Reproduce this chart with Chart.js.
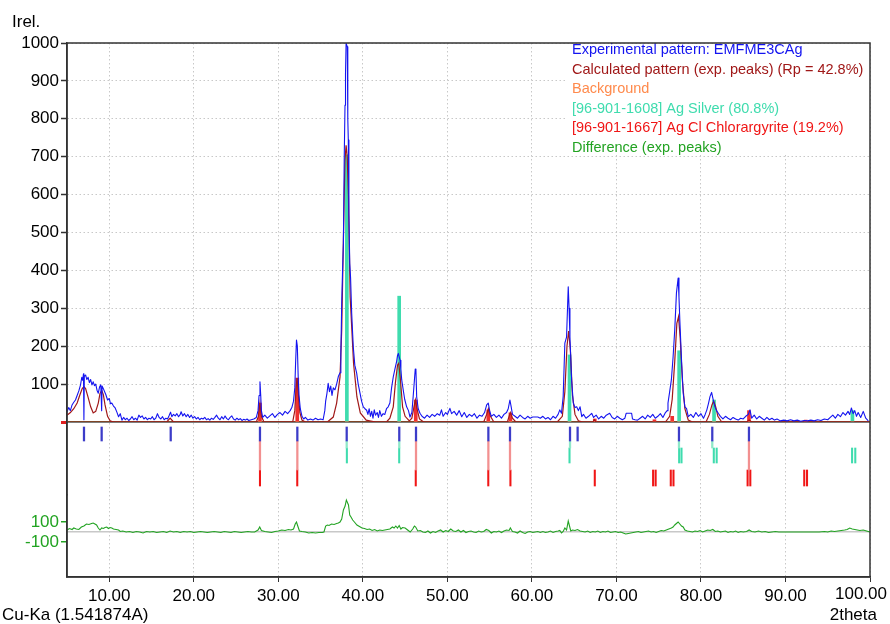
<!DOCTYPE html>
<html>
<head>
<meta charset="utf-8">
<title>XRD pattern EMFME3CAg</title>
<script src="https://cdn.jsdelivr.net/npm/chart.js@4.4.1/dist/chart.umd.min.js"></script>
<style>
  html, body { margin: 0; padding: 0; background: #fff; }
  #wrap { width: 890px; height: 624px; }
</style>
</head>
<body>
<div id="wrap"><canvas id="xrd" width="890" height="624"></canvas></div>
<script>
// tick labels
const xTicks = [10, 20, 30, 40, 50, 60, 70, 80, 90, 100];
const yMainTicks = [0, 100, 200, 300, 400, 500, 600, 700, 800, 900, 1000];
const diffTicks = [-100, 0, 100];

// experimental pattern [2theta, Irel]
const experimental = [
  [5.0,27],[5.2,38],[5.4,30],[5.6,45],[5.8,52],[6.0,58],[6.2,70],[6.4,82],[6.6,98],[6.75,118],[6.85,110],[6.95,127],[7.0,6],[7.05,120],
  [7.2,124],[7.35,112],[7.5,118],[7.65,104],[7.8,112],[7.95,98],[8.1,106],[8.25,96],[8.4,100],[8.55,84],[8.7,76],[8.85,92],[9.0,98],[9.1,30],
  [9.15,95],[9.3,88],[9.45,80],[9.6,72],[9.8,58],[10.0,62],[10.15,48],[10.3,50],[10.5,42],[10.7,37],[10.9,26],[11.1,14],[11.3,22],[11.5,5],
  [11.7,12],[11.9,6],[12.1,10],[12.3,4],[12.5,8],[12.7,14],[12.9,6],[13.1,10],[13.3,5],[13.5,18],[13.7,12],[13.9,16],[14.1,8],[14.3,12],
  [14.5,6],[14.7,10],[14.9,8],[15.1,14],[15.3,6],[15.5,10],[15.7,22],[15.9,12],[16.1,8],[16.3,14],[16.5,6],[16.7,10],[16.9,8],[17.1,18],
  [17.25,26],[17.4,14],[17.6,20],[17.8,16],[18.0,22],[18.2,14],[18.4,20],[18.5,27],[18.7,16],[18.9,22],[19.1,14],[19.3,20],[19.5,12],[19.7,18],
  [19.9,10],[20.1,14],[20.3,8],[20.5,12],[20.7,6],[20.9,10],[21.1,8],[21.3,12],[21.5,6],[21.7,9],[21.9,5],[22.1,10],[22.3,7],[22.5,12],
  [22.7,18],[22.9,10],[23.1,6],[23.3,14],[23.5,8],[23.7,16],[23.9,9],[24.1,6],[24.3,12],[24.5,16],[24.7,8],[24.9,5],[25.1,10],[25.3,6],
  [25.5,9],[25.7,4],[25.9,7],[26.1,5],[26.3,8],[26.5,4],[26.8,6],[27.1,8],[27.4,12],[27.6,30],[27.72,70],[27.83,106],[27.92,70],[28.0,30],
  [28.15,12],[28.4,18],[28.7,10],[29.0,16],[29.3,22],[29.6,12],[29.9,20],[30.2,25],[30.5,18],[30.8,28],[31.1,22],[31.4,30],[31.6,38],[31.8,55],
  [31.95,90],[32.05,160],[32.15,216],[32.25,200],[32.35,120],[32.45,70],[32.6,35],[32.8,15],[33.0,8],[33.2,12],[33.5,5],[33.8,8],[34.1,5],
  [34.4,10],[34.7,6],[35.0,8],[35.3,6],[35.5,30],[35.6,55],[35.75,75],[35.9,102],[36.05,80],[36.2,95],[36.35,70],[36.5,90],[36.7,85],[36.9,100],
  [37.1,120],[37.3,130],[37.4,180],[37.5,313],[37.6,400],[37.7,472],[37.8,700],[37.89,836],[37.95,920],[38.02,1000],[38.1,1000],[38.16,990],
  [38.22,800],[38.28,744],[38.35,550],[38.45,419],[38.55,380],[38.68,287],[38.8,230],[38.87,198],[39.05,150],[39.27,129],[39.45,100],[39.66,77],
  [39.85,55],[40.05,40],[40.25,35],[40.45,31],[40.6,20],[40.75,35],[40.9,15],[41.05,28],[41.2,10],[41.35,32],[41.5,18],[41.7,25],[41.85,12],
  [42.0,30],[42.2,15],[42.4,22],[42.6,20],[42.8,35],[43.0,40],[43.2,50],[43.4,90],[43.6,119],[43.8,140],[44.0,160],[44.1,175],[44.2,181],
  [44.3,172],[44.4,163],[44.5,140],[44.6,111],[44.78,84],[44.95,60],[45.18,40],[45.4,30],[45.58,13],[45.8,25],[45.95,66],[46.1,110],[46.2,140],
  [46.28,137],[46.37,66],[46.55,35],[46.76,23],[47.0,15],[47.3,10],[47.6,18],[47.9,12],[48.2,20],[48.5,15],[48.8,22],[49.1,18],[49.3,32],
  [49.5,15],[49.8,25],[50.0,20],[50.3,36],[50.5,22],[50.8,28],[51.1,18],[51.4,30],[51.7,14],[52.0,25],[52.3,12],[52.6,20],[52.9,15],[53.2,22],
  [53.5,10],[53.8,18],[54.1,15],[54.4,25],[54.65,45],[54.84,50],[55.0,30],[55.2,15],[55.5,20],[55.8,12],[56.1,18],[56.4,10],[56.7,20],[57.0,25],
  [57.2,35],[57.4,58],[57.55,40],[57.7,20],[58.0,15],[58.3,10],[58.6,18],[58.9,12],[59.2,8],[59.5,15],[59.8,10],[60.1,13],[60.4,13],[60.7,13],
  [61.0,10],[61.3,15],[61.6,8],[61.9,12],[62.2,6],[62.5,15],[62.8,10],[63.1,20],[63.3,32],[63.5,23],[63.7,67],[63.9,208],[64.1,224],[64.3,357],
  [64.4,300],[64.5,225],[64.7,111],[64.9,50],[65.1,38],[65.3,40],[65.5,30],[65.7,40],[65.9,14],[66.1,20],[66.4,10],[66.7,15],[67.07,23],[67.3,12],
  [67.6,18],[67.9,8],[68.2,15],[68.5,10],[68.8,18],[69.2,23],[69.5,12],[69.8,8],[70.1,15],[70.4,10],[70.7,6],[71.0,10],[71.15,23],[71.8,23],
  [71.9,8],[72.2,6],[72.5,5],[72.8,10],[73.1,15],[73.4,8],[73.7,18],[74.0,12],[74.3,20],[74.6,10],[74.9,15],[75.2,22],[75.5,12],[75.8,25],
  [76.0,30],[76.1,50],[76.3,80],[76.5,111],[76.7,170],[76.9,243],[77.1,340],[77.3,380],[77.4,330],[77.5,269],[77.7,164],[77.9,76],[78.1,40],
  [78.3,35],[78.5,14],[78.8,20],[79.1,12],[79.4,25],[79.7,15],[80.0,22],[80.3,10],[80.5,20],[80.7,32],[80.9,50],[81.07,67],[81.26,78],[81.46,58],
  [81.66,40],[81.85,30],[82.05,23],[82.3,15],[82.6,8],[82.9,15],[83.2,10],[83.5,6],[83.8,12],[84.1,8],[84.4,5],[84.7,10],[85.0,8],[85.3,15],
  [85.6,20],[85.8,32],[86.0,10],[86.3,18],[86.6,8],[86.9,15],[87.2,10],[87.5,5],[87.8,12],[88.1,6],[88.4,10],[88.7,5],[89.0,8],[89.4,3],
  [89.8,5],[90.2,3],[90.6,6],[91.0,3],[91.4,5],[91.8,2],[92.2,4],[92.6,3],[93.0,5],[93.4,3],[93.8,6],[94.2,4],[94.6,8],[95.0,6],[95.3,12],
  [95.6,18],[95.9,10],[96.2,20],[96.5,14],[96.8,25],[97.1,18],[97.4,28],[97.6,20],[97.8,37],[98.0,22],[98.2,30],[98.4,15],[98.6,25],[98.9,12],
  [99.2,28],[99.5,10],[99.8,3]
];

// calculated pattern (exp. peaks)
const calculated = [
  [5.0,18],[5.4,25],[5.8,35],[6.2,50],[6.5,70],[6.8,88],[7.0,93],[7.2,88],[7.5,65],[7.8,40],[8.1,24],[8.4,28],[8.7,50],[8.9,75],[9.1,84],
  [9.3,72],[9.5,45],[9.8,15],[10.1,3],[10.5,0],[16.8,0],[17.2,10],[17.6,0],[27.4,0],[27.65,15],[27.83,50],[28.0,15],[28.3,0],[31.7,0],
  [31.95,30],[32.1,90],[32.22,116],[32.35,80],[32.55,25],[32.8,5],[33.2,0],[35.8,0],[36.5,13],[36.9,50],[37.3,119],[37.5,243],[37.7,480],
  [37.88,690],[38.02,730],[38.15,700],[38.3,594],[38.5,330],[38.7,243],[38.9,155],[39.3,66],[39.7,24],[40.4,5],[41.5,0],[42.8,0],[43.2,10],
  [43.6,40],[43.85,103],[44.1,150],[44.25,155],[44.45,110],[44.7,40],[45.0,15],[45.5,3],[45.8,10],[46.05,40],[46.22,58],[46.4,35],[46.7,8],
  [47.2,0],[54.3,0],[54.65,20],[54.85,35],[55.1,15],[55.5,0],[57.1,0],[57.35,18],[57.45,25],[57.7,10],[58.1,0],[63.0,0],[63.6,15],[63.9,80],
  [64.15,200],[64.35,240],[64.55,190],[64.8,70],[65.1,20],[65.5,3],[66.0,0],[67.2,0],[67.4,6],[67.6,0],[75.8,0],[76.3,15],[76.6,60],[76.9,160],
  [77.15,260],[77.35,278],[77.55,220],[77.8,110],[78.1,35],[78.5,5],[79.0,0],[80.6,0],[81.0,20],[81.3,45],[81.5,55],[81.75,40],[82.0,15],
  [82.4,2],[83.0,0],[85.4,0],[85.7,5],[86.0,0],[100.0,0]
];

// background
const background = [[5, 0], [30, 0], [60, 0], [100, 0]];

// difference (exp. peaks)
const difference = [
  [5.0,20],[5.3,35],[5.6,25],[5.8,40],[6.1,30],[6.4,25],[6.7,50],[7.0,60],[7.3,80],[7.6,75],[7.9,85],[8.1,90],[8.3,80],[8.5,70],[8.7,40],
  [8.9,20],[9.1,40],[9.3,35],[9.5,45],[9.7,50],[9.9,35],[10.1,45],[10.3,40],[10.5,30],[10.8,25],[11.1,20],[11.3,5],[11.6,10],[12.0,0],
  [12.4,5],[12.8,-5],[13.2,5],[13.6,0],[14.0,-10],[14.4,5],[14.8,0],[15.2,5],[15.6,-5],[16.0,0],[16.4,5],[16.8,-5],[17.2,10],[17.6,0],
  [18.0,5],[18.4,-5],[18.8,5],[19.2,0],[19.6,5],[20.0,-5],[20.4,0],[20.8,5],[21.2,0],[21.6,-5],[22.0,0],[22.4,5],[22.8,0],[23.2,-5],[23.6,5],
  [24.0,0],[24.4,-5],[24.8,5],[25.2,0],[25.6,-5],[26.0,0],[26.4,5],[26.8,0],[27.2,0],[27.6,20],[27.8,50],[28.0,15],[28.4,5],[28.8,0],[29.2,-5],
  [29.6,5],[30.0,10],[30.4,20],[30.8,15],[31.2,25],[31.5,20],[31.8,30],[32.0,80],[32.15,100],[32.3,60],[32.5,10],[32.8,5],[33.2,0],[33.6,-10],
  [34.0,-5],[34.4,-10],[34.8,-5],[35.2,-5],[35.4,0],[35.6,60],[35.8,70],[36.0,65],[36.3,80],[36.6,75],[36.9,85],[37.1,90],[37.3,100],[37.5,130],
  [37.7,220],[37.9,260],[38.05,320],[38.2,290],[38.3,270],[38.45,170],[38.6,150],[38.8,120],[39.0,100],[39.3,70],[39.6,55],[39.9,40],[40.2,35],
  [40.5,25],[40.8,30],[41.1,15],[41.4,25],[41.7,10],[42.0,20],[42.3,15],[42.6,20],[42.9,25],[43.2,30],[43.5,50],[43.7,40],[43.9,60],[44.1,40],
  [44.3,65],[44.5,30],[44.7,45],[45.0,40],[45.3,20],[45.6,0],[45.9,30],[46.1,60],[46.25,50],[46.5,10],[46.8,15],[47.1,0],[47.4,-5],[47.7,10],
  [48.0,-10],[48.3,5],[48.6,-5],[48.9,10],[49.2,20],[49.5,0],[49.8,15],[50.1,5],[50.4,30],[50.7,10],[51.0,5],[51.3,20],[51.6,0],[51.9,15],
  [52.2,-5],[52.5,5],[52.8,10],[53.1,0],[53.4,-5],[53.7,10],[54.0,0],[54.3,5],[54.6,25],[54.9,15],[55.2,-10],[55.5,5],[55.8,0],[56.1,10],
  [56.4,-5],[56.7,10],[57.0,20],[57.3,15],[57.45,40],[57.7,5],[58.0,0],[58.3,-10],[58.6,10],[58.9,-5],[59.2,-15],[59.5,0],[59.8,5],[60.1,-5],
  [60.4,0],[60.7,5],[61.0,-5],[61.3,5],[61.6,-5],[61.9,0],[62.2,10],[62.5,-5],[62.8,5],[63.1,10],[63.3,15],[63.5,-10],[63.7,5],[63.9,40],
  [64.1,20],[64.3,110],[64.45,60],[64.6,10],[64.8,20],[65.1,15],[65.4,25],[65.7,10],[66.0,5],[66.3,0],[66.6,10],[66.9,-5],[67.2,5],[67.5,0],
  [67.8,10],[68.1,-5],[68.4,5],[68.7,0],[69.0,10],[69.3,-5],[69.6,0],[69.9,5],[70.2,-5],[70.5,0],[70.8,-10],[71.1,-20],[71.4,-15],[71.7,-10],
  [72.0,-5],[72.3,0],[72.6,5],[72.9,-5],[73.2,0],[73.5,5],[73.8,10],[74.1,0],[74.4,5],[74.7,-5],[75.0,5],[75.3,15],[75.6,10],[75.9,20],
  [76.2,30],[76.5,40],[76.7,50],[76.9,70],[77.1,85],[77.3,100],[77.5,80],[77.7,60],[77.9,50],[78.1,20],[78.4,10],[78.7,5],[79.0,0],[79.3,10],
  [79.6,5],[79.9,15],[80.2,0],[80.5,10],[80.8,20],[81.1,15],[81.4,25],[81.7,5],[82.0,10],[82.3,0],[82.6,5],[82.9,10],[83.2,-5],[83.5,5],
  [83.8,0],[84.1,10],[84.4,-5],[84.7,5],[85.0,0],[85.4,5],[85.7,20],[86.0,5],[86.4,0],[86.8,10],[87.2,0],[87.6,5],[88.0,-5],[88.4,0],[88.8,5],
  [89.2,0],[90.0,0],[91.0,0],[92.0,0],[93.0,0],[94.0,0],[94.6,5],[95.0,0],[95.4,10],[95.8,5],[96.2,10],[96.6,15],[97.0,20],[97.3,25],[97.6,40],
  [97.9,30],[98.2,25],[98.5,20],[98.8,15],[99.2,20],[99.6,10],[100.0,0]
];

// phase sticks in the pattern (2theta / Irel)
const agTheta = [38.11, 44.30, 64.45, 77.42, 81.55, 97.92];
const agIrel = [705, 332, 177, 188, 58, 30];
const agclTheta = [27.83, 32.24, 46.26, 54.84, 57.46, 67.44, 74.5, 76.6, 85.68, 92.4];
const agclIrel = [50, 116, 58, 32, 24, 8, 6, 15, 30, 5];

// peak position rows under the pattern
const expPeaks = [7.01, 9.10, 17.27, 27.83, 32.25, 38.09, 44.31, 46.29, 54.85, 57.41, 64.51, 65.41, 77.40, 81.34, 85.68];
const agMatched = [38.09, 44.31, 64.51, 77.40, 81.34];
const agclMatched = [27.83, 32.25, 46.29, 54.85, 57.41, 85.68];
const agLines = [38.11, 44.30, 64.45, 77.42, 77.70, 81.52, 81.86, 97.88, 98.26];
const agclLines = [27.83, 32.24, 46.26, 54.84, 57.46, 67.44, 74.34, 74.64, 76.43, 76.75, 85.52, 85.84, 92.22, 92.55];

const legendLabels = [
  'Experimental pattern: EMFME3CAg',
  'Calculated pattern (exp. peaks) (Rp = 42.8%)',
  'Background',
  '[96-901-1608] Ag Silver (80.8%)',
  '[96-901-1667] Ag Cl Chlorargyrite (19.2%)',
  'Difference (exp. peaks)'
];
const legendColors = ['#1414f0', '#a01818', '#ff8a4c', '#3fdcae', '#f01616', '#22a322'];

const FONT = '"Liberation Sans", Arial, Helvetica, sans-serif';
Chart.defaults.font.family = FONT;
Chart.defaults.color = '#000';

const pts = arr => arr.map(p => ({ x: p[0], y: p[1] }));
const sticks = (xs, ys) => xs.map((x, i) => ({ x: x, y: ys[i] }));
const band = (xs, lo, hi) => xs.map(x => ({ x: x, y: [lo, hi] }));

const LAST_X = xTicks[xTicks.length - 1];

// frame, legend, captions and the last x label (kept inside the canvas)
const decor = {
  id: 'decor',
  afterDraw(chart) {
    const { ctx, chartArea: a } = chart;
    ctx.save();
    ctx.fillStyle = '#fff';
    ctx.fillRect(a.right - 304, a.top + 1, 303, 110);
    ctx.font = '14.5px ' + FONT;
    ctx.textBaseline = 'middle';
    ctx.textAlign = 'left';
    legendLabels.forEach((t, i) => {
      ctx.fillStyle = legendColors[i];
      ctx.fillText(t, a.right - 298, a.top + 7 + i * 19.6);
    });
    ctx.strokeStyle = '#333';
    ctx.lineWidth = 1.5;
    ctx.strokeRect(a.left, a.top, a.right - a.left, a.bottom - a.top);
    ctx.fillStyle = '#000';
    ctx.font = '17px ' + FONT;
    ctx.fillText('Irel.', 12, 22);
    ctx.fillText('Cu-Ka (1.541874A)', 2, 615);
    ctx.textAlign = 'right';
    ctx.fillText('2theta', 877, 615);
    ctx.textBaseline = 'top';
    ctx.fillText(LAST_X.toFixed(2), 887, a.bottom + 9);
    ctx.restore();
  }
};

const stickBar = (data, color, axis, thick, order) => ({
  type: 'bar', data: data, yAxisID: axis, backgroundColor: color, borderWidth: 0,
  barThickness: thick, grouped: false, order: order
});

new Chart(document.getElementById('xrd'), {
  type: 'line',
  data: {
    datasets: [
      { data: pts(experimental), yAxisID: 'y', borderColor: '#1414f0', borderWidth: 1.1, pointRadius: 0, order: 0, borderJoinStyle: 'round' },
      { data: pts(calculated), yAxisID: 'y', borderColor: '#a01818', borderWidth: 1.2, pointRadius: 0, order: 1 },
      { data: pts(background), yAxisID: 'y', borderColor: '#ff8a4c', borderWidth: 1, pointRadius: 0, order: 1 },
      { data: pts(difference), yAxisID: 'yDiff', borderColor: '#22a322', borderWidth: 1.1, pointRadius: 0, order: 1 },
      stickBar(sticks(agTheta, agIrel), '#3fdcae', 'y', 3, 3),
      stickBar(sticks(agclTheta, agclIrel), '#f03030', 'y', 3, 3),
      stickBar(band(expPeaks, 5, 19), '#3c3cc8', 'yTicks', 1.6, 2),
      stickBar(band(agMatched, 19, 26), '#8fe8c8', 'yTicks', 1.6, 2),
      stickBar(band(agLines, 26, 41), '#3fdcae', 'yTicks', 1.4, 2),
      stickBar(band(agclMatched, 19, 48), '#f29090', 'yTicks', 1.6, 2),
      stickBar(band(agclLines, 48, 64), '#f01616', 'yTicks', 1.4, 2)
    ]
  },
  options: {
    responsive: false,
    animation: false,
    devicePixelRatio: 1,
    layout: { padding: { top: 43, right: 20, left: 0, bottom: 0 } },
    plugins: { legend: { display: false }, tooltip: { enabled: false } },
    scales: {
      x: {
        type: 'linear', min: 5, max: 100, offset: false,
        afterBuildTicks: s => { s.ticks = xTicks.map(v => ({ value: v })); },
        ticks: { callback: v => (v === LAST_X ? '' : Number(v).toFixed(2)), font: { size: 17 }, color: '#000', maxRotation: 0, autoSkip: false, padding: 4 },
        grid: { offset: false, color: '#c8c8c8', tickColor: '#333', tickLength: 5 },
        border: { color: '#333', width: 1.5, dash: [1.5, 2.5] },
        afterFit: s => { s.height = 47; s.paddingLeft = 0; s.paddingRight = 0; }
      },
      yDiff: {
        type: 'linear', position: 'left', stack: 'xrd', stackWeight: 82, weight: 1,
        min: -450, max: 370,
        afterBuildTicks: s => { s.ticks = diffTicks.map(v => ({ value: v })); },
        ticks: { callback: v => (v === 0 ? '' : v), color: '#22a322', font: { size: 17 }, autoSkip: false, padding: 2 },
        grid: {
          color: c => (c.tick && c.tick.value === 0 ? '#c8c8c8' : 'transparent'),
          tickColor: c => (c.tick && c.tick.value === 0 ? 'transparent' : '#22a322'),
          tickLength: 6, lineWidth: 1.5
        },
        border: { color: '#333', width: 1.5 },
        afterFit: s => { s.width = 67; }
      },
      yTicks: {
        type: 'linear', position: 'left', stack: 'xrd', stackWeight: 73, weight: 2,
        min: 0, max: 73, reverse: true, z: 1,
        afterBuildTicks: s => { s.ticks = [{ value: 0 }]; },
        ticks: { display: false },
        grid: { color: '#000', lineWidth: 1.5, drawTicks: false },
        border: { color: '#333', width: 1.5 },
        afterFit: s => { s.width = 67; }
      },
      y: {
        type: 'linear', position: 'left', stack: 'xrd', stackWeight: 379, weight: 3,
        min: 0, max: 1000,
        afterBuildTicks: s => { s.ticks = yMainTicks.map(v => ({ value: v })); },
        ticks: { callback: v => (v === 0 ? '' : v), font: { size: 17 }, color: '#000', autoSkip: false, padding: 2 },
        grid: {
          color: c => (c.tick && c.tick.value === 0 ? 'transparent' : '#c8c8c8'),
          tickColor: c => (c.tick && c.tick.value === 0 ? '#e02020' : '#333'),
          tickWidth: c => (c.tick && c.tick.value === 0 ? 3 : 1.5),
          tickLength: 6
        },
        border: { color: '#333', width: 1.5, dash: [1.5, 2.5] },
        afterFit: s => { s.width = 67; }
      }
    }
  },
  plugins: [decor]
});
</script>
</body>
</html>
